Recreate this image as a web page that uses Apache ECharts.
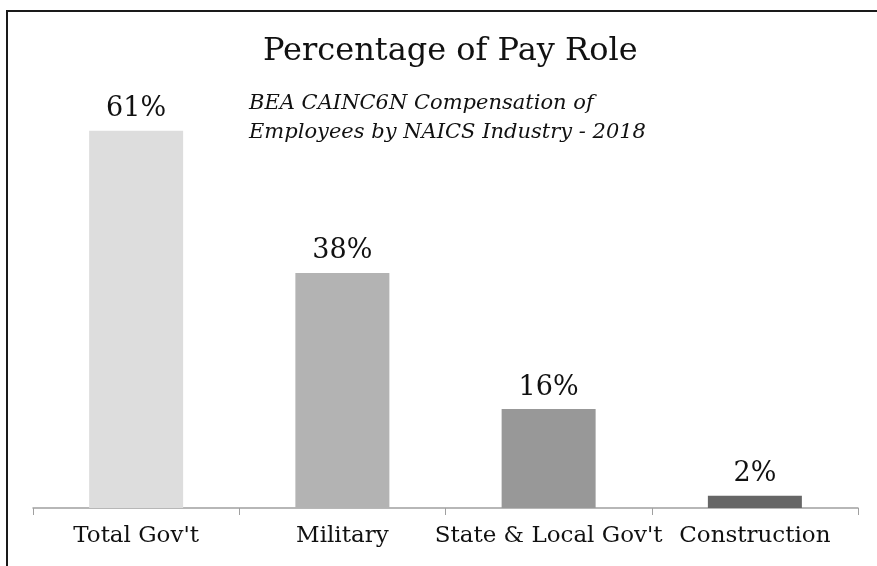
<!DOCTYPE html>
<html>
<head>
<meta charset="utf-8">
<script src="https://cdn.jsdelivr.net/npm/echarts@6/dist/echarts.min.js"></script>
<style>
  html, body { margin: 0; padding: 0; background: #fff; }
  #chart { width: 877px; height: 566px; }
</style>
</head>
<body>
<div id="chart"></div>
<script>
// data
const categories = ["Total Gov't", 'Military', "State & Local Gov't", 'Construction'];
const shares = [61, 38, 16, 2];
const barColors = ['#dddddd', '#b3b3b3', '#989898', '#666666'];

const serif = "'DejaVu Serif', Georgia, serif";

const chart = echarts.init(document.getElementById('chart'));

chart.setOption({
  animation: false,
  backgroundColor: '#fff',
  title: [{
    text: 'Percentage of Pay Role',
    left: 258,
    top: 31,
    textStyle: { fontFamily: serif, fontSize: 32, fontWeight: 'normal', color: '#111' }
  }, {
    text: 'BEA CAINC6N Compensation of\nEmployees by NAICS Industry - 2018',
    left: 244,
    top: 84,
    textStyle: { fontFamily: serif, fontSize: 21, fontStyle: 'italic', fontWeight: 'normal', color: '#111', lineHeight: 29 }
  }],
  graphic: [{
    type: 'rect',
    shape: { x: 7, y: 11, width: 1000, height: 1000 },
    style: { fill: 'none', stroke: '#1a1a1a', lineWidth: 2 },
    silent: true
  }],
  grid: { left: 33, right: 19, top: 75, bottom: 58 },
  xAxis: {
    type: 'category',
    data: categories,
    axisLine: { lineStyle: { color: '#a0a0a0', width: 1.5 } },
    axisTick: { show: true, length: 7, lineStyle: { color: '#a0a0a0' } },
    axisLabel: { fontFamily: serif, fontSize: 23, color: '#111', margin: 17, interval: 0 }
  },
  yAxis: {
    type: 'value',
    min: 0,
    max: 70,
    show: false,
    splitLine: { show: false }
  },
  series: [{
    type: 'bar',
    barWidth: 94,
    data: shares.map((v, i) => ({ value: v, itemStyle: { color: barColors[i] } })),
    label: {
      show: true,
      position: 'top',
      distance: 8,
      formatter: p => p.value + '%',
      fontFamily: serif,
      fontSize: 27,
      color: '#111'
    }
  }]
});
</script>
</body>
</html>
